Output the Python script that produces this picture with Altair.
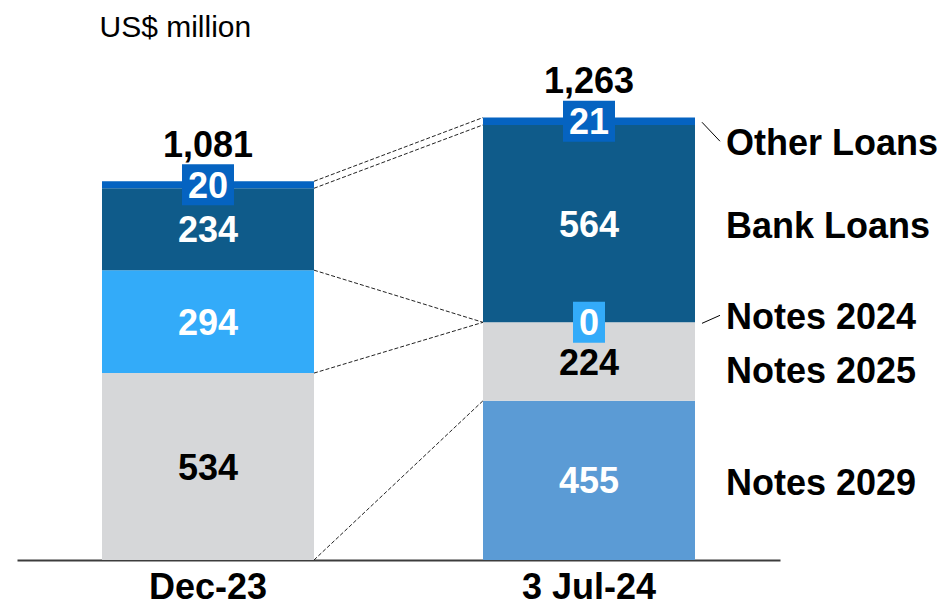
import altair as alt
import pandas as pd

# ---- data ----
categories = ["Dec-23", "3 Jul-24"]
series = ["Notes 2029", "Notes 2025", "Notes 2024", "Bank Loans", "Other Loans"]  # bottom -> top
dec_23 = [None, 534, 294, 234, 20]
jul_24 = [455, 224, 0, 564, 21]
totals = [1081, 1263]
colors = ["#5B9BD5", "#D6D7D9", "#33ABF9", "#0F5B8A", "#0563C1"]

FONT = "Liberation Sans"

rows = []
for cat, vals in zip(categories, [dec_23, jul_24]):
    base = 0.0
    for s, v in zip(series, vals):
        if v is None:
            continue
        rows.append(dict(cat=cat, series=s, value=v, y0=base, y1=base + v,
                         mid=base + v / 2, label=str(v),
                         txt="black" if s == "Notes 2025" else "white",
                         small=v < 50, nchar=len(str(v))))
        base += v
seg = pd.DataFrame(rows)

tot = pd.DataFrame({"cat": categories, "total": totals})

d = seg[seg.cat == categories[0]].set_index("series")
j = seg[seg.cat == categories[1]].set_index("series")
pairs = set()
for s in d.index:
    if s in j.index:
        pairs.add((float(d.loc[s, "y1"]), float(j.loc[s, "y1"])))
        pairs.add((float(d.loc[s, "y0"]), float(j.loc[s, "y0"])))
conn = pd.DataFrame(sorted(pairs), columns=["ya", "yb"])
conn["cat"] = categories[0]
conn["to_cat"] = categories[1]

# ---- scales & axes ----
xs = alt.Scale(domain=categories, range=[9, 772], paddingInner=0.4436, paddingOuter=0.2231)
ys = alt.Scale(domain=[0, 1577], nice=False, zero=False)
cs = alt.Scale(domain=series, range=colors)

x_axis = alt.Axis(title=None, labelFont=FONT, labelFontSize=36, labelFontWeight="bold",
                  labelColor="black", labelPadding=10, labelAngle=0, ticks=False,
                  domainColor="#3c3c3c", domainWidth=2, grid=False)
y_axis = alt.Axis(title="US$ million", labels=False, ticks=False, domain=False, grid=False,
                  titleAngle=0, titleAlign="left", titleBaseline="alphabetic",
                  titleX=91, titleY=28, titleFont=FONT, titleFontSize=30,
                  titleFontWeight="normal", titleColor="black")


def X(field="cat:N", **kw):
    return alt.X(field, scale=xs, axis=x_axis, **kw)


def Y(field):
    return alt.Y(field, scale=ys, axis=y_axis)


layers = []

bars = alt.Chart(seg).mark_bar().encode(
    x=X(),
    y=Y("y0:Q"),
    y2="y1:Q",
    color=alt.Color("series:N", scale=cs, legend=None),
)
layers.append(bars)

# connectors between the bars
connectors = alt.Chart(conn).mark_rule(strokeDash=[4, 2], strokeWidth=1, color="#222222").encode(
    x=X(bandPosition=1),
    x2=alt.X2("to_cat:N", bandPosition=0),
    y=Y("ya:Q"),
    y2="yb:Q",
)
layers.append(connectors)

# label boxes for small segments
small = seg[seg.small]
for n in sorted(small.nchar.unique()):
    w = 12 + 20 * int(n)
    h = 20.5 / (w / 2)
    shape = f"M-1,-{h:.4f}H1V{h:.4f}H-1Z"
    layers.append(
        alt.Chart(small[small.nchar == n]).mark_point(
            shape=shape, size=w * w, filled=True, opacity=1, strokeWidth=0
        ).encode(
            x=X(),
            y=Y("mid:Q"),
            color=alt.Color("series:N", scale=cs, legend=None),
        )
    )

# segment values
seg_text = alt.Chart(seg).mark_text(
    font=FONT, fontSize=36, fontWeight="bold", baseline="middle", dy=2
).encode(
    x=X(),
    y=Y("mid:Q"),
    text="label:N",
    color=alt.Color("txt:N", scale=None),
)
layers.append(seg_text)

# totals
tot_text = alt.Chart(tot).mark_text(
    font=FONT, fontSize=36, fontWeight="bold", baseline="alphabetic", dy=-25, color="black"
).encode(
    x=X(),
    y=Y("total:Q"),
    text=alt.Text("total:Q", format=","),
)
layers.append(tot_text)

# right-hand series labels
jul = seg[seg.cat == categories[1]]
label_dy = {"Other Loans": 23, "Bank Loans": 3, "Notes 2024": -4, "Notes 2025": 10, "Notes 2029": 4}
for s in series:
    layers.append(
        alt.Chart(jul[jul.series == s]).mark_text(
            font=FONT, fontSize=36, fontWeight="bold", baseline="middle", align="left",
            dx=31, dy=label_dy[s], color="black"
        ).encode(
            x=X(bandPosition=1),
            y=Y("mid:Q"),
            text="series:N",
        )
    )

# leader lines
leaders = {"Other Loans": (1, 20), "Notes 2024": (1, -7)}
for s, (a, b) in leaders.items():
    layers.append(
        alt.Chart(jul[jul.series == s]).mark_rule(
            color="black", strokeWidth=1, xOffset=7, x2Offset=25, yOffset=a, y2Offset=b
        ).encode(
            x=X(bandPosition=1),
            x2=alt.X2("cat:N", bandPosition=1),
            y=Y("mid:Q"),
            y2="mid:Q",
        )
    )

chart = alt.layer(*layers).properties(
    width=932, height=552,
    autosize=alt.AutoSizeParams(type="none"),
    padding={"left": 0, "top": 0, "right": 0, "bottom": 46},
).configure_view(stroke=None)

chart.save("out.html", embed_options={"renderer": "svg", "actions": False})
